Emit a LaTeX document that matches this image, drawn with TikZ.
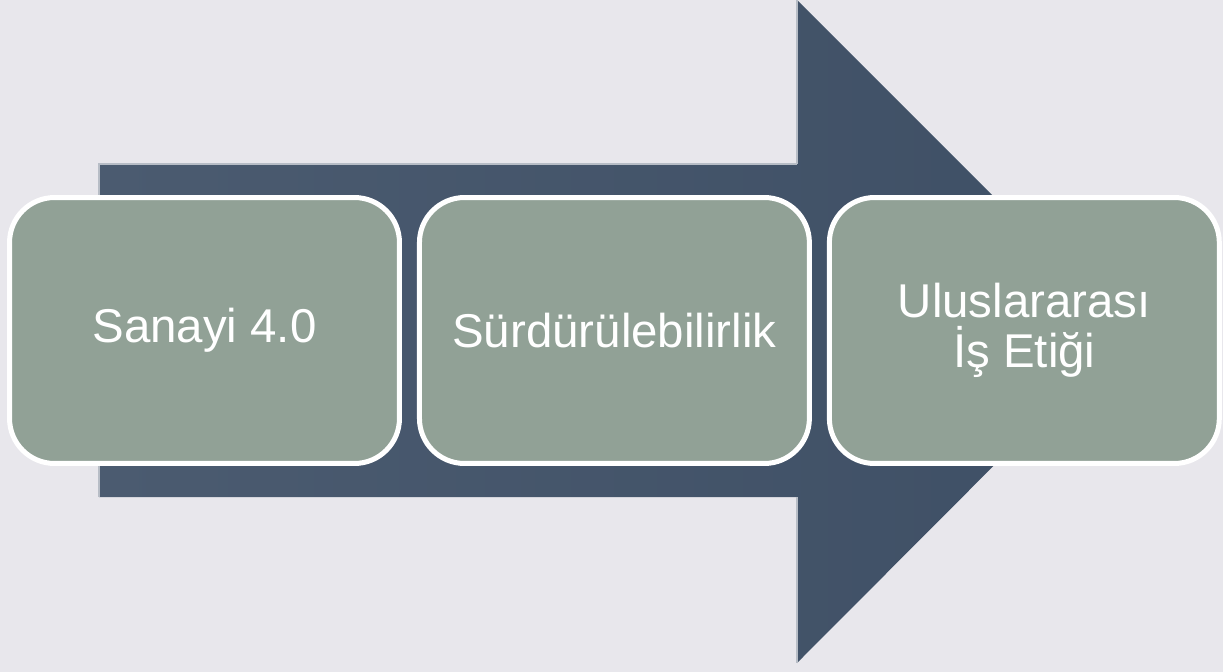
\documentclass[tikz,border=0pt]{standalone}
\usepackage{fontspec}
\setmainfont{Liberation Sans}
\usepackage{xcolor}
\usepackage{tikz}
\usetikzlibrary{positioning}

\definecolor{bgGrey}{HTML}{E8E7EC}
\definecolor{arrowLeft}{HTML}{4B5B70}
\definecolor{arrowRight}{HTML}{3E4F65}
\definecolor{boxFill}{HTML}{91A196}

\tikzset{
	stepbox/.style={draw=white, line width=0.1cm, fill=boxFill, rounded corners=0.9cm,
		minimum width=7.8cm, minimum height=5.32cm, inner sep=0pt, align=center,
		text=white, font=\fontsize{27}{28.5}\selectfont}
}

\begin{document}
\begin{tikzpicture}[x=0.02cm, y=-0.02cm]
			
			% Background
			\fill[bgGrey] (0,0) rectangle (1223,672);
			\useasboundingbox (0,0) rectangle (1223,672);
			
			% Big arrow
			\shade[left color=arrowLeft, right color=arrowRight]
				(99,164) -- (797,164) -- (797,0) -- (1128,331) -- (797,663) -- (797,497) -- (99,497) -- cycle;
			\draw[white!60!arrowLeft, line width=0.6pt]
				(99,497) -- (99,164) -- (797,164) (797,0) -- (797,164) (797,497) -- (797,663);
			
			% Steps
			\node[stepbox] (industry) at (204.5,330.5) {Sanayi 4.0};
			\node[stepbox, right=0.3cm of industry] (sustain) {Sürdürülebilirlik};
			\node[stepbox, right=0.3cm of sustain] (ethics) {Uluslararası\\İş Etiği};
			
		\end{tikzpicture}
\end{document}
